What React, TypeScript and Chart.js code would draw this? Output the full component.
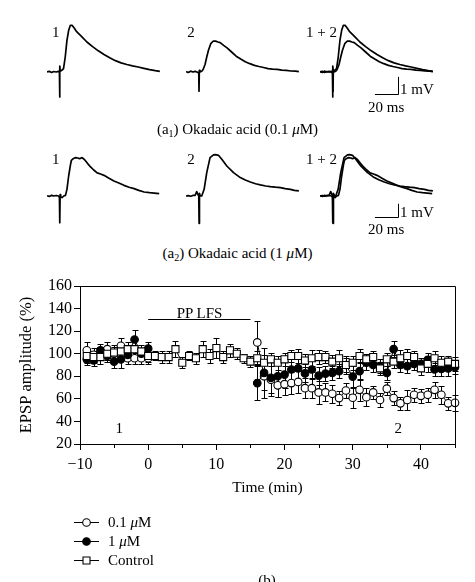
import React, { useEffect, useRef } from 'react';
import { Chart, registerables } from 'chart.js';

Chart.register(...registerables);
Chart.defaults.color = '#000';

const FONT = "'Liberation Serif', 'Times New Roman', serif";

// ---------- (a) traces: time (ms) and potential (mV) ----------
const A1_BEFORE_MS = [0, 2, 4, 6, 8, 10, 10.9, 11.1, 11.3, 11.6, 13, 14.5, 16, 17.5, 19, 20.5, 22, 24, 26, 30, 35, 40, 45, 50, 55, 60, 65, 70, 75, 80, 85, 90, 95, 99];
const A1_BEFORE_MV = [0, 0.04, -0.03, 0.03, 0, 0.04, 0, -1.5, 0.35, 0.05, 0.1, 0.2, 0.9, 1.9, 2.5, 2.8, 2.8, 2.62, 2.42, 2.15, 1.8, 1.52, 1.27, 1.05, 0.85, 0.68, 0.55, 0.45, 0.37, 0.3, 0.22, 0.14, 0.08, 0.04];
const A1_AFTER_MS = [0, 2, 4, 6, 8, 10, 11.2, 11.4, 11.7, 12.2, 13.8, 15, 16.7, 18.2, 19.7, 21.7, 24, 26, 28, 30, 33, 36, 40, 44, 48, 52, 56, 60, 64, 68, 72, 76, 80, 84, 88, 92, 96, 99];
const A1_AFTER_MV = [0.02, -0.03, 0.05, 0, 0.04, -0.02, 0, -1.15, 0.1, 0, 0.05, 0.15, 0.45, 0.9, 1.3, 1.7, 1.86, 1.85, 1.8, 1.76, 1.6, 1.45, 1.2, 0.95, 0.78, 0.62, 0.5, 0.4, 0.33, 0.27, 0.2, 0.17, 0.16, 0.11, 0.1, 0.06, 0.05, 0.02];
const A2_BEFORE_MS = [0, 2, 4, 6, 8, 10, 10.9, 11.2, 11.5, 12, 13.2, 14.7, 16.2, 17.5, 19, 20.5, 21.4, 23, 25, 27, 28.5, 30.8, 33, 35.5, 38.2, 41, 44, 47, 50, 54, 58.7, 63, 67.5, 72, 76.4, 80.5, 85.2, 90, 94, 98.4];
const A2_BEFORE_MV = [0.02, -0.03, 0.05, 0, 0.04, 0, -0.1, -2.0, 0.1, -0.05, -0.12, 0, 0.05, 0.5, 1.5, 2.3, 2.68, 2.8, 2.88, 2.85, 2.8, 2.88, 2.72, 2.45, 2.18, 1.95, 1.73, 1.65, 1.55, 1.35, 1.13, 0.98, 0.8, 0.66, 0.55, 0.42, 0.3, 0.25, 0.22, 0.18];
const A2_AFTER_MS = [0, 2, 4, 6, 8, 9.4, 10.5, 11.2, 11.5, 11.8, 12.5, 13.8, 15.9, 18.2, 21.1, 24.1, 26, 28.5, 31.4, 35.8, 41.7, 47.6, 52, 56.4, 61, 65.2, 70, 74, 78.5, 82.8, 87, 91.6, 95, 99];
const A2_AFTER_MV = [0, 0.03, -0.02, 0.04, 0.05, 0.33, 0.1, 0, -2.05, 0.2, 0, 0, 0.5, 1.75, 2.88, 3.08, 3.1, 3.05, 2.75, 2.25, 1.75, 1.38, 1.2, 1.05, 0.92, 0.83, 0.75, 0.7, 0.66, 0.63, 0.55, 0.5, 0.42, 0.38];

const SCALE_MS = 20;
const SCALE_MV = 1;

// ---------- (b) EPSP amplitude time course ----------
const TIME_CONTROL = [-9, -8, -7, -6, -5, -4, -3, -2, -1, 0, 1, 2, 3, 4, 5, 6, 7, 8, 9, 10, 11, 12, 13, 14, 15, 16, 17, 18, 19, 20, 21, 22, 23, 24, 25, 26, 27, 28, 29, 30, 31, 32, 33, 34, 35, 36, 37, 38, 39, 40, 41, 42, 43, 44, 45];
const CONTROL_AMP = [98, 97, 97, 100, 101, 102, 104, 104, 102, 98, 98, 97, 97, 104, 92, 98, 96, 104, 98, 105, 97, 103, 100, 96, 93, 96, 92, 95, 92, 95, 98, 98, 94, 96, 97, 97, 93, 96, 90, 92, 98, 95, 97, 87, 95, 93, 96, 98, 97, 87, 91, 96, 92, 93, 91];
const CONTROL_ERR = [6, 5, 6, 6, 7, 7, 6, 8, 6, 5, 4, 5, 5, 7, 5, 4, 5, 7, 6, 9, 5, 6, 5, 4, 5, 6, 7, 6, 6, 6, 5, 6, 6, 7, 6, 5, 6, 7, 6, 6, 6, 5, 5, 6, 6, 6, 7, 6, 5, 6, 7, 6, 6, 5, 6];

const TIME_OKA = [-9, -8, -7, -6, -5, -4, -3, -2, -1, 0, 16, 17, 18, 19, 20, 21, 22, 23, 24, 25, 26, 27, 28, 29, 30, 31, 32, 33, 34, 35, 36, 37, 38, 39, 40, 41, 42, 43, 44, 45];
const OKA01_AMP = [103, 99, 100, 104, 100, 107, 96, 96, 96, 96, 110, 80, 77, 72, 73, 74, 75, 69.5, 69.5, 65.7, 65.7, 64.5, 60.7, 67.4, 61, 68, 61.5, 65.7, 59, 69, 60.7, 56, 59, 63.6, 62.7, 63.6, 68, 63.6, 56, 56.5];
const OKA01_ERR = [7, 6, 6, 6, 6, 7, 5, 5, 5, 5, 19, 12, 12, 10, 10, 10, 10, 9, 9, 10, 8, 8, 6, 7, 9, 10, 8, 6, 6, 6, 6, 6, 9, 6, 6, 6, 7, 8, 6, 7];
const OKA1_AMP = [95, 94, 103, 98, 93, 95, 99, 112.6, 100, 104.5, 74, 83, 78.6, 80, 81.5, 86, 87, 82.5, 86, 80.5, 82.4, 83, 84.5, 90, 79.7, 84.5, 92, 90, 89, 83, 104, 90, 89, 91, 91, 94.6, 86, 86.5, 87, 88];
const OKA1_ERR = [5, 5, 6, 5, 6, 8, 5, 8, 5, 6, 15, 22, 16, 18, 12, 10, 12, 8, 8, 8, 7, 6, 6, 8, 9, 8, 6, 6, 6, 6, 7, 6, 6, 5, 5, 6, 6, 6, 7, 6];

const SERIES_LABELS = ['0.1 \u03bcM', '1 \u03bcM', 'Control'];
const X_TICKS = [-10, 0, 10, 20, 30, 40];
const X_MINOR = [-5, 5, 15, 25, 35, 45];
const Y_TICKS = [20, 40, 60, 80, 100, 120, 140, 160];
const X_MIN = -10, X_MAX = 45, Y_MIN = 20, Y_MAX = 160;
const LFS_START = 0, LFS_END = 15, LFS_LEVEL = 131;

// ---------- layout ----------
const TRACE_W = 114, TRACE_H = 100;
const MAIN_TOP = 270, MAIN_H = 312;

function scaleBarPlugin(cornerMs: number, cornerMv: number) {
  return {
    id: 'scaleBar',
    afterDraw(chart: any) {
      const { ctx, scales: { x, y } } = chart;
      const cx = Math.round(x.getPixelForValue(cornerMs)) + 0.5;
      const cy = Math.round(y.getPixelForValue(cornerMv)) + 0.5;
      const lx = x.getPixelForValue(cornerMs - SCALE_MS);
      const ty = y.getPixelForValue(cornerMv + SCALE_MV);
      ctx.save();
      ctx.strokeStyle = '#000';
      ctx.lineWidth = 1;
      ctx.beginPath();
      ctx.moveTo(lx, cy);
      ctx.lineTo(cx, cy);
      ctx.lineTo(cx, ty);
      ctx.stroke();
      ctx.restore();
    },
  };
}

function TraceChart(props: { left: number; top: number; yMin: number; yMax: number; traces: { ms: number[]; mv: number[] }[]; bar?: [number, number] }) {
  const ref = useRef<HTMLCanvasElement>(null);
  useEffect(() => {
    const { traces, yMin, yMax, bar } = props;
    const chart = new Chart(ref.current as HTMLCanvasElement, {
      type: 'line',
      data: {
        datasets: traces.map((t) => ({
          data: t.ms.map((x, i) => ({ x, y: t.mv[i] })),
          borderColor: '#000',
          borderWidth: 1.7,
          pointRadius: 0,
          tension: 0,
          fill: false,
          borderJoinStyle: 'round' as const,
        })),
      },
      options: {
        responsive: false,
        animation: false,
        events: [],
        layout: { padding: 0 },
        plugins: { legend: { display: false }, tooltip: { enabled: false } },
        scales: {
          x: { type: 'linear', display: false, min: 0, max: 100 },
          y: { type: 'linear', display: false, min: yMin, max: yMax },
        },
      },
      plugins: bar ? [scaleBarPlugin(bar[0], bar[1])] : [],
    } as any);
    return () => chart.destroy();
  }, []);
  return (
    <canvas
      ref={ref}
      width={TRACE_W}
      height={TRACE_H}
      style={{ position: 'absolute', left: props.left, top: props.top, width: TRACE_W, height: TRACE_H }}
    />
  );
}

const errorBarPlugin = {
  id: 'errorBars',
  beforeDatasetsDraw(chart: any) {
    const { ctx } = chart;
    const ys = chart.scales.y;
    ctx.save();
    ctx.strokeStyle = '#000';
    ctx.lineWidth = 1;
    chart.data.datasets.forEach((ds: any, i: number) => {
      const meta = chart.getDatasetMeta(i);
      if (!ds.errors) return;
      meta.data.forEach((pt: any, j: number) => {
        const v = ds.data[j].y;
        const e = ds.errors[j];
        const px = Math.round(pt.x) + 0.5;
        const top = Math.round(ys.getPixelForValue(v + e)) + 0.5;
        const bot = Math.round(ys.getPixelForValue(v - e)) + 0.5;
        ctx.beginPath();
        ctx.moveTo(px, top);
        ctx.lineTo(px, bot);
        ctx.moveTo(px - 3, top);
        ctx.lineTo(px + 3, top);
        ctx.moveTo(px - 3, bot);
        ctx.lineTo(px + 3, bot);
        ctx.stroke();
      });
    });
    ctx.restore();
  },
};

function drawMarker(ctx: CanvasRenderingContext2D, style: string, fill: string, x: number, y: number) {
  ctx.beginPath();
  if (style === 'rect') {
    ctx.rect(x - 3.5, y - 3.5, 7, 7);
  } else {
    ctx.arc(x, y, 3.8, 0, Math.PI * 2);
  }
  ctx.fillStyle = fill;
  ctx.fill();
  ctx.lineWidth = 1.1;
  ctx.strokeStyle = '#000';
  ctx.stroke();
}

const LEGEND_X0 = 74, LEGEND_X1 = 99, LEGEND_Y0 = 521.7 - MAIN_TOP, LEGEND_DY = 19.2;

const framePlugin = {
  id: 'frame',
  afterDraw(chart: any) {
    const { ctx, chartArea: a, scales: { x, y } } = chart;
    ctx.save();
    ctx.strokeStyle = '#000';
    ctx.lineWidth = 1;
    ctx.beginPath();
    const t = Math.round(a.top) + 0.5;
    const r = Math.round(a.right) + 0.5;
    ctx.moveTo(a.left, t);
    ctx.lineTo(r, t);
    ctx.lineTo(r, a.bottom);
    X_MINOR.forEach((v) => {
      const px = Math.round(x.getPixelForValue(v)) + 0.5;
      ctx.moveTo(px, a.bottom);
      ctx.lineTo(px, a.bottom + 4);
    });
    const ly = Math.round(y.getPixelForValue(LFS_LEVEL)) + 0.5;
    ctx.moveTo(x.getPixelForValue(LFS_START), ly);
    ctx.lineTo(x.getPixelForValue(LFS_END), ly);
    ctx.stroke();

    // legend symbols
    chart.data.datasets.forEach((ds: any, i: number) => {
      const yy = Math.round(LEGEND_Y0 + i * LEGEND_DY) + 0.5;
      ctx.beginPath();
      ctx.lineWidth = 1;
      ctx.strokeStyle = '#000';
      ctx.moveTo(LEGEND_X0, yy);
      ctx.lineTo(LEGEND_X1, yy);
      ctx.stroke();
      drawMarker(ctx, ds.pointStyle, ds.pointBackgroundColor, (LEGEND_X0 + LEGEND_X1) / 2, yy);
    });
    ctx.restore();
  },
};

const fmtTick = (v: number) => (v < 0 ? '\u2212' + Math.abs(v) : String(v));

function MainChart() {
  const ref = useRef<HTMLCanvasElement>(null);
  useEffect(() => {
    const gapSegment = {
      borderColor: (c: any) => (c.p1.parsed.x - c.p0.parsed.x > 2 ? 'rgba(0,0,0,0)' : '#000'),
    };
    const tickFont = { family: FONT, size: 16 };
    const xTitleFont = { family: FONT, size: 15.5 };
    const yTitleFont = { family: FONT, size: 16.5 };
    const chart = new Chart(ref.current as HTMLCanvasElement, {
      type: 'line',
      data: {
        datasets: [
          {
            label: SERIES_LABELS[0],
            data: TIME_OKA.map((x, i) => ({ x, y: OKA01_AMP[i] })),
            errors: OKA01_ERR,
            pointStyle: 'circle',
            pointRadius: 3.8,
            pointBackgroundColor: '#fff',
            pointBorderColor: '#000',
            pointBorderWidth: 1.1,
            borderColor: '#000',
            borderWidth: 1,
            segment: gapSegment,
            order: 2,
            clip: false,
          },
          {
            label: SERIES_LABELS[1],
            data: TIME_OKA.map((x, i) => ({ x, y: OKA1_AMP[i] })),
            errors: OKA1_ERR,
            pointStyle: 'circle',
            pointRadius: 3.8,
            pointBackgroundColor: '#000',
            pointBorderColor: '#000',
            pointBorderWidth: 1.1,
            borderColor: '#000',
            borderWidth: 1,
            segment: gapSegment,
            order: 1,
            clip: false,
          },
          {
            label: SERIES_LABELS[2],
            data: TIME_CONTROL.map((x, i) => ({ x, y: CONTROL_AMP[i] })),
            errors: CONTROL_ERR,
            pointStyle: 'rect',
            pointRadius: 5,
            pointBackgroundColor: '#fff',
            pointBorderColor: '#000',
            pointBorderWidth: 1.1,
            borderColor: '#000',
            borderWidth: 1,
            order: 0,
            clip: false,
          },
        ],
      },
      options: {
        responsive: false,
        animation: false,
        events: [],
        layout: { padding: { top: 16, right: 20, left: 0, bottom: MAIN_H - 16 - 158 - 53 } },
        plugins: { legend: { display: false }, tooltip: { enabled: false } },
        scales: {
          x: {
            type: 'linear',
            min: X_MIN,
            max: X_MAX,
            afterBuildTicks: (s: any) => {
              s.ticks = X_TICKS.map((v) => ({ value: v }));
            },
            afterFit: (s: any) => {
              s.height = 53;
            },
            ticks: { font: tickFont, color: '#000', padding: 5, maxRotation: 0, autoSkip: false, callback: (v: any) => fmtTick(Number(v)) },
            grid: { display: true, drawOnChartArea: false, drawTicks: true, tickLength: 6, color: '#000', lineWidth: 1 },
            border: { display: true, color: '#000', width: 1 },
            title: { display: true, text: 'Time (min)', font: xTitleFont, color: '#000', padding: { top: 0, bottom: 0 } },
          },
          y: {
            type: 'linear',
            min: Y_MIN,
            max: Y_MAX,
            afterBuildTicks: (s: any) => {
              s.ticks = Y_TICKS.map((v) => ({ value: v }));
            },
            afterFit: (s: any) => {
              s.width = 80;
            },
            ticks: { font: tickFont, color: '#000', padding: 2, autoSkip: false },
            grid: { display: true, drawOnChartArea: false, drawTicks: true, tickLength: 6, color: '#000', lineWidth: 1 },
            border: { display: true, color: '#000', width: 1 },
            title: { display: true, text: 'EPSP amplitude (%)', font: yTitleFont, color: '#000', padding: { top: 17, bottom: 0 } },
          },
        },
      },
      plugins: [errorBarPlugin, framePlugin],
    } as any);
    return () => chart.destroy();
  }, []);
  return (
    <canvas
      ref={ref}
      width={475}
      height={MAIN_H}
      style={{ position: 'absolute', left: 0, top: MAIN_TOP, width: 475, height: MAIN_H }}
    />
  );
}

function Txt(props: { x: number; y: number; center?: boolean; children: React.ReactNode }) {
  return (
    <div
      style={{
        position: 'absolute',
        left: props.x,
        top: props.y - 9,
        fontSize: 15,
        lineHeight: '18px',
        whiteSpace: 'nowrap',
        transform: props.center ? 'translateX(-50%)' : undefined,
      }}
    >
      {props.children}
    </div>
  );
}

const Mu = () => <i>{'\u03bc'}</i>;
const Sub = (p: { t: string }) => (
  <span style={{ fontSize: 10, position: 'relative', top: 3 }}>{p.t}</span>
);

export default function App() {
  const r1Top = 12, r2Top = 136;
  const r1 = [-2.4, 3.6], r2 = [-3, 4.5];
  const b1: { ms: number[]; mv: number[] } = { ms: A1_BEFORE_MS, mv: A1_BEFORE_MV };
  const a1: { ms: number[]; mv: number[] } = { ms: A1_AFTER_MS, mv: A1_AFTER_MV };
  const b2: { ms: number[]; mv: number[] } = { ms: A2_BEFORE_MS, mv: A2_BEFORE_MV };
  const a2: { ms: number[]; mv: number[] } = { ms: A2_AFTER_MS, mv: A2_AFTER_MV };
  return (
    <div
      style={{
        position: 'absolute',
        left: 0,
        top: 0,
        width: 475,
        height: 582,
        overflow: 'hidden',
        background: '#fff',
        fontFamily: FONT,
        color: '#000',
      }}
    >
      <TraceChart left={47} top={r1Top} yMin={r1[0]} yMax={r1[1]} traces={[b1]} />
      <TraceChart left={186} top={r1Top} yMin={r1[0]} yMax={r1[1]} traces={[a1]} />
      <TraceChart left={320} top={r1Top} yMin={r1[0]} yMax={r1[1]} traces={[b1, a1]} bar={[68.2, -1.29]} />
      <TraceChart left={47} top={r2Top} yMin={r2[0]} yMax={r2[1]} traces={[b2]} />
      <TraceChart left={186} top={r2Top} yMin={r2[0]} yMax={r2[1]} traces={[a2]} />
      <TraceChart left={320} top={r2Top} yMin={r2[0]} yMax={r2[1]} traces={[b2, a2]} bar={[68.2, -1.58]} />

      <Txt x={55.8} y={31.7} center>1</Txt>
      <Txt x={191} y={31.7} center>2</Txt>
      <Txt x={321.5} y={31.7} center>1 + 2</Txt>
      <Txt x={400} y={89.3}>1 mV</Txt>
      <Txt x={368} y={107.3}>20 ms</Txt>
      <Txt x={237.5} y={129} center>
        (a<Sub t="1" />) Okadaic acid (0.1 <Mu />M)
      </Txt>

      <Txt x={55.8} y={158.8} center>1</Txt>
      <Txt x={191} y={158.8} center>2</Txt>
      <Txt x={321.5} y={158.8} center>1 + 2</Txt>
      <Txt x={400} y={211.7}>1 mV</Txt>
      <Txt x={368} y={229}>20 ms</Txt>
      <Txt x={237.5} y={253} center>
        (a<Sub t="2" />) Okadaic acid (1 <Mu />M)
      </Txt>

      <MainChart />
      <Txt x={199.5} y={312.7} center>PP LFS</Txt>
      <Txt x={119.3} y={428.3} center>1</Txt>
      <Txt x={398.3} y={428.3} center>2</Txt>

      <Txt x={108} y={521.7}>0.1 <Mu />M</Txt>
      <Txt x={108} y={540.9}>1 <Mu />M</Txt>
      <Txt x={108} y={560.1}>Control</Txt>
      <Txt x={267} y={580} center>(b)</Txt>
    </div>
  );
}
